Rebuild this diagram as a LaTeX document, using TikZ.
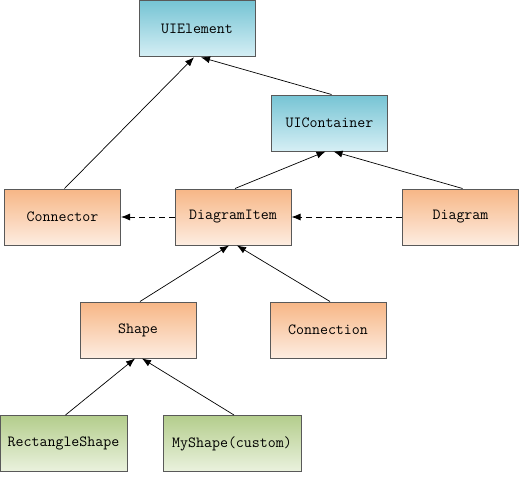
\documentclass[tikz,border=0pt]{standalone}
\usetikzlibrary{arrows.meta}
\definecolor{uitop}{RGB}{118,196,212}
\definecolor{uibot}{RGB}{214,239,245}
\definecolor{ortop}{RGB}{247,182,134}
\definecolor{orbot}{RGB}{253,237,225}
\definecolor{grtop}{RGB}{180,205,140}
\definecolor{grbot}{RGB}{234,242,222}
\begin{document}
\begin{tikzpicture}[x=1pt,y=-1pt,>={Latex[length=9pt,width=7pt]}]
   \useasboundingbox (0,0) rectangle (519,477);
   \tikzstyle{cls}=[rectangle, draw=black!65, line width=1pt, minimum width=116pt, minimum height=56pt, font=\ttfamily\fontsize{15.5}{15.5}\selectfont]
   \tikzstyle{ui}=[cls, top color=uitop, bottom color=uibot]
   \tikzstyle{item}=[cls, top color=ortop, bottom color=orbot]
   \tikzstyle{leaf}=[cls, top color=grtop, bottom color=grbot]
   \tikzstyle{dep}=[->, line width=0.8pt, dash pattern=on 6pt off 4pt]
   \node[ui] (uielement) at (197,28.8) {UIElement};
   \node[ui] (uicontainer) at (329.5,123) {UIContainer};
   \foreach \name/\x/\word in {connector/62.5/{Connector},diagramitem/233/{DiagramItem},diagram/460.5/{Diagram}} {
       \node[item] (\name) at (\x,217) {\word};
   }
   \node[item] (shape) at (138,330) {Shape};
   \node[item] (connection) at (328,330) {Connection};
   \node[leaf, minimum width=127pt] (rectshape) at (63.5,443.5) {RectangleShape};
   \node[leaf, minimum width=138pt] (myshape) at (232,443.5) {MyShape(custom)};
   \foreach \from/\to/\dx in {connector/uielement/-3,uicontainer/uielement/4,diagramitem/uicontainer/-4,diagram/uicontainer/4,shape/diagramitem/-4,connection/diagramitem/4,rectshape/shape/-3,myshape/shape/4} {
        \path[->, line width=0.7pt] ([xshift=2pt]\from.north) edge ([xshift=\dx pt]\to.south);
   }
   \path[dep] (diagramitem) edge (connector);
   \path[dep] (diagram) edge (diagramitem);
\end{tikzpicture}
\end{document}
